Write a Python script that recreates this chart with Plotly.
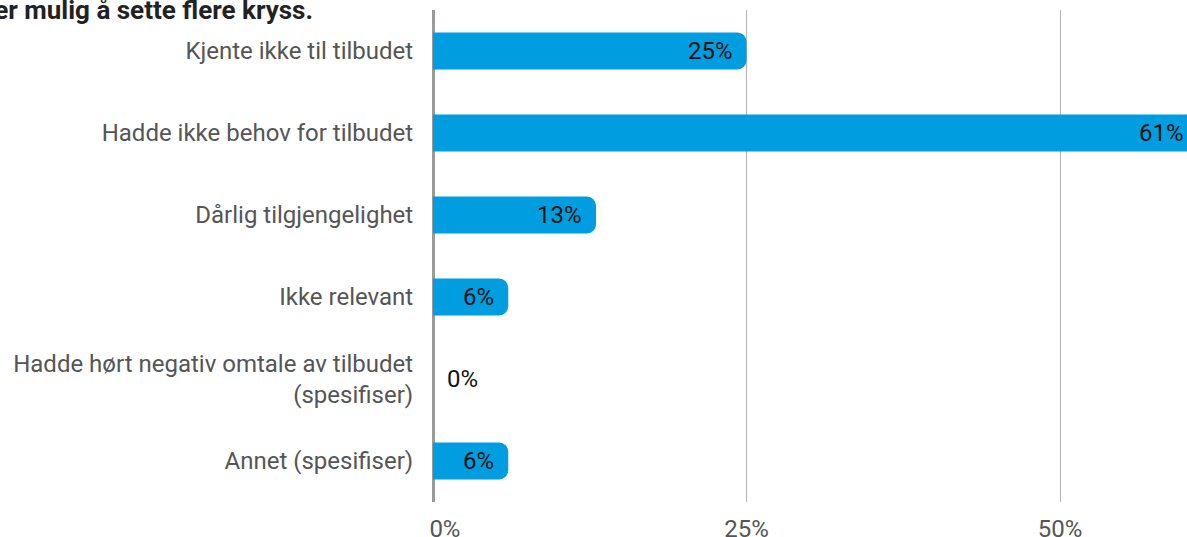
import plotly.graph_objects as go

categories = [
    "Kjente ikke til tilbudet",
    "Hadde ikke behov for tilbudet",
    "Dårlig tilgjengelighet",
    "Ikke relevant",
    "Hadde hørt negativ omtale av tilbudet<br>(spesifiser)",
    "Annet (spesifiser)",
]
values = [25, 61, 13, 6, 0, 6]
tick_vals = [0, 25, 50, 75, 100]
tick_text = ["\u00a0\u00a0\u00a0\u00a00%", "25%", "50%", "75%", "100%"]
title_text = "Det er mulig å sette flere kryss."

# The reference is a crop of a wider chart: the figure is wider than the window.
W, H = 1240, 537
ML, MR, MT, MB = 433, 0, 10, 35
plot_w = W - ML - MR
plot_h = H - MT - MB
px_per_unit = 313.5 / 25
x_max = plot_w / px_per_unit

fig = go.Figure()
fig.add_trace(go.Bar(
    y=categories,
    x=values,
    orientation="h",
    marker=dict(color="#009EE0", cornerradius=9, line=dict(width=0)),
    cliponaxis=True,
    hoverinfo="skip",
))

# value labels, positioned through the axes
for cat, v in zip(categories, values):
    fig.add_annotation(
        x=v, y=cat, xref="x", yref="y",
        text=f"{v}%",
        xanchor="right" if v > 0 else "left",
        xshift=-12 if v > 0 else 12,
        yanchor="middle",
        showarrow=False,
        font=dict(family="Roboto", size=24, color="#111111"),
    )

fig.update_layout(
    width=W, height=H,
    margin=dict(l=ML, r=MR, t=MT, b=MB, pad=0, autoexpand=False),
    plot_bgcolor="white", paper_bgcolor="white",
    bargap=0.55,
    showlegend=False,
    font=dict(family="Roboto", color="#555555", size=24),
)
fig.update_xaxes(
    range=[0, x_max], tickvals=tick_vals, ticktext=tick_text,
    showgrid=True, gridcolor="#b3b3b3", gridwidth=1,
    zeroline=True, zerolinecolor="#9a9a9a", zerolinewidth=2.5,
    ticks="outside", ticklen=5, tickcolor="rgba(0,0,0,0)",
    tickfont=dict(family="Roboto", size=24, color="#555555"),
    showline=False, fixedrange=True, automargin=False,
)
fig.update_yaxes(
    autorange="reversed", categoryorder="array", categoryarray=categories,
    ticks="outside", ticklen=14, tickcolor="rgba(0,0,0,0)",
    tickfont=dict(family="Roboto", size=24, color="#555555"),
    showgrid=False, showline=False, fixedrange=True, automargin=False,
)
fig.add_annotation(
    text=f"<b>{title_text}</b>", xref="paper", yref="paper",
    x=(315 - ML) / plot_w, xanchor="right",
    y=1 + (MT - 10) / plot_h, yanchor="middle",
    showarrow=False, font=dict(family="Roboto", size=26, color="#222222"),
)
fig.write_html(
    "out.html",
    config={"displayModeBar": False},
    post_script="document.body.style.margin='0';document.body.style.overflow='hidden';",
)
